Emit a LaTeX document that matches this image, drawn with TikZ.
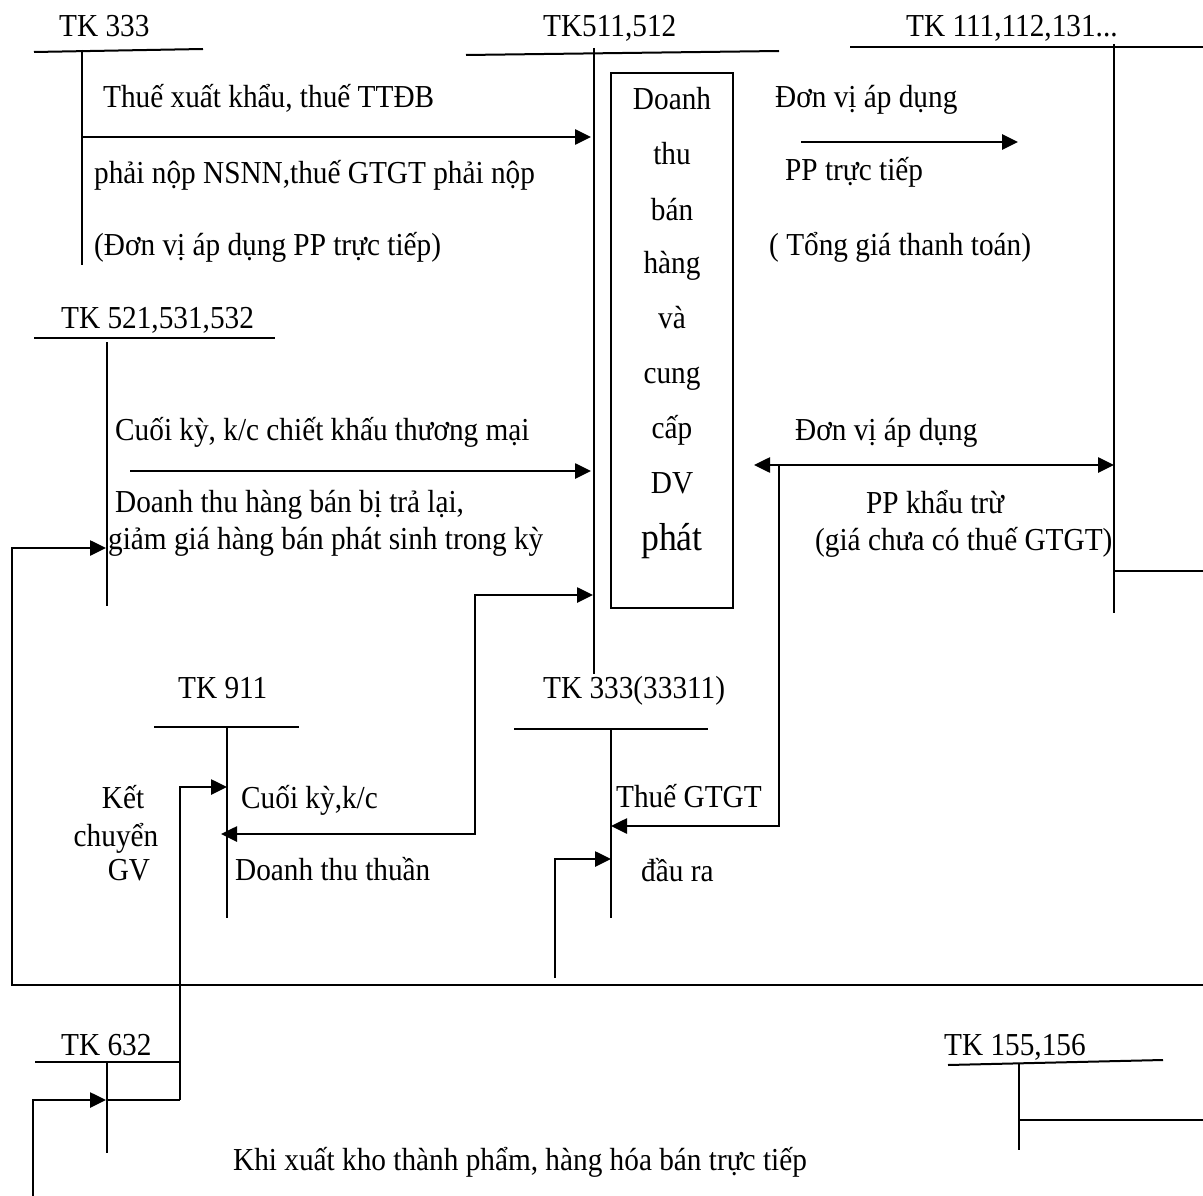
\documentclass[tikz,border=0pt]{standalone}
\usepackage{fontspec}
\setmainfont[FakeStretch=0.915]{Liberation Serif}
\usetikzlibrary{arrows.meta}
\begin{document}
\begin{tikzpicture}[x=1pt,y=-1pt,
  lbl/.style={inner sep=0pt, anchor=west, font=\fontsize{32}{38}\selectfont, text height=24pt, text depth=8pt},
  acc/.style={line width=2pt},
  ln/.style={line width=2.2pt},
  tip/.style={Triangle[length=16pt,width=15pt]},
  arr/.style={line width=2.6pt, -{Triangle[length=16pt,width=15pt]}},
  darr/.style={line width=2.6pt, {Triangle[length=16pt,width=15pt]}-{Triangle[length=16pt,width=15pt]}},
]
\useasboundingbox (0,0) rectangle (1203,1196);

% ---------------- TK 333 ----------------
\node[lbl] (t333) at (59,29) {TK 333};
\coordinate (t333l) at (34,52); \coordinate (t333r) at (203,49);
\coordinate (t333t) at (82,50); \coordinate (t333b) at (82,265);
\draw[acc] (t333l) -- (t333r);
\draw[acc] (t333t) -- (t333b);

% ---------------- TK 511,512 ----------------
\node[lbl] (t511) at (543,29) {TK511,512};
\coordinate (t511l) at (466,55); \coordinate (t511r) at (779,51);
\coordinate (t511t) at (594,48); \coordinate (t511b) at (594,674);
\draw[acc] (t511l) -- (t511r);
\draw[acc] (t511t) -- (t511b);

% ---------------- TK 111,112,131 ----------------
\node[lbl] (t111) at (906,29) {TK 111,112,131...};
\coordinate (t111l) at (850,47); \coordinate (t111r) at (1203,47);
\coordinate (t111t) at (1114,44); \coordinate (t111b) at (1114,613);
\coordinate (t111h) at (1114,571); \coordinate (t111e) at (1203,571);
\draw[acc] (t111l) -- (t111r);
\draw[acc] (t111t) -- (t111b);
\draw[acc] (t111h) -- (t111e);

% ---------------- central box ----------------
\node[draw, line width=1.8pt, minimum width=122pt, minimum height=535pt, inner sep=0pt] (box) at (672,340.5) {};
\foreach \w/\yy [count=\i] in {Doanh/102, thu/157, bán/212, hàng/265, và/320, cung/375, cấp/430, DV/485}
  \node[lbl, anchor=center] (bx\i) at (672,\yy) {\w};
\node[lbl, anchor=center, font=\fontsize{39}{44}\selectfont, text height=29pt, text depth=10pt] (bx9) at (672,541) {phát};

% ---------------- top-left arrow ----------------
\node[lbl] (l1) at (103,100) {Thuế xuất khẩu, thuế TTĐB};
\node[lbl] (l2) at (94,175) {phải nộp NSNN,thuế GTGT phải nộp};
\node[lbl] (l3) at (94,247) {(Đơn vị áp dụng PP trực tiếp)};
\coordinate (a1s) at (82,137); \coordinate (a1e) at (591,137);
\draw[arr] (a1s) -- (a1e);

% ---------------- top-right arrow ----------------
\node[lbl] (r1) at (775,100) {Đơn vị áp dụng};
\node[lbl] (r2) at (785,173) {PP trực tiếp};
\node[lbl] (r3) at (769,247) {( Tổng giá thanh toán)};
\coordinate (a2s) at (801,142); \coordinate (a2e) at (1018,142);
\draw[arr] (a2s) -- (a2e);

% ---------------- TK 521,531,532 ----------------
\node[lbl] (t521) at (61,320) {TK 521,531,532};
\coordinate (t521l) at (34,338); \coordinate (t521r) at (275,338);
\coordinate (t521t) at (107,342); \coordinate (t521b) at (107,606);
\draw[acc] (t521l) -- (t521r);
\draw[acc] (t521t) -- (t521b);
\node[lbl] (m1) at (115,432) {Cuối kỳ, k/c chiết khấu thương mại};
\node[lbl] (m2) at (115,504) {Doanh thu hàng bán bị trả lại,};
\node[lbl] (m3) at (108,541) {giảm giá hàng bán phát sinh trong kỳ};
\coordinate (a3s) at (130,471); \coordinate (a3e) at (591,471);
\draw[arr] (a3s) -- (a3e);

% ---------------- middle-right double arrow ----------------
\node[lbl] (r4) at (795,432) {Đơn vị áp dụng};
\node[lbl] (r5) at (866,505) {PP khẩu trừ};
\node[lbl] (r6) at (815,542) {(giá chưa có thuế GTGT)};
\coordinate (a4s) at (754,465); \coordinate (a4e) at (1114,465);
\draw[darr] (a4s) -- (a4e);
\coordinate (a5s) at (779,465); \coordinate (a5m) at (779,826); \coordinate (a5e) at (611,826);
\draw[arr] (a5s) -- (a5m) -- (a5e);

% ---------------- TK 911 ----------------
\node[lbl] (t911) at (178,690) {TK 911};
\coordinate (t911l) at (154,727); \coordinate (t911r) at (299,727);
\coordinate (t911t) at (227,727); \coordinate (t911b) at (227,918);
\draw[acc] (t911l) -- (t911r);
\draw[acc] (t911t) -- (t911b);
\node[lbl] (c1) at (241,800) {Cuối kỳ,k/c};
\node[lbl] (c2) at (235,872) {Doanh thu thuần};
\node[lbl, anchor=center] (k1) at (123,800) {Kết};
\node[lbl, anchor=center] (k2) at (116,838) {chuyển};
\node[lbl, anchor=center] (k3) at (129,872) {GV};
\coordinate (a6s) at (221,834); \coordinate (a6m1) at (475,834);
\coordinate (a6m2) at (475,595); \coordinate (a6e) at (593,595);
\draw[darr] (a6s) -- (a6m1) -- (a6m2) -- (a6e);

% ---------------- TK 333(33311) ----------------
\node[lbl] (t3331) at (543,690) {TK 333(33311)};
\coordinate (t3331l) at (514,729); \coordinate (t3331r) at (708,729);
\coordinate (t3331t) at (611,729); \coordinate (t3331b) at (611,918);
\draw[acc] (t3331l) -- (t3331r);
\draw[acc] (t3331t) -- (t3331b);
\node[lbl] (g1) at (616,799) {Thuế GTGT};
\node[lbl] (g2) at (641,873) {đầu ra};
\coordinate (a8s) at (555,978); \coordinate (a8m) at (555,859); \coordinate (a8e) at (611,859);
\draw[arr] (a8s) -- (a8m) -- (a8e);

% ---------------- big loop ----------------
\coordinate (a7s) at (1203,985); \coordinate (a7m1) at (12,985);
\coordinate (a7m2) at (12,548); \coordinate (a7e) at (106,548);
\draw[arr] (a7s) -- (a7m1) -- (a7m2) -- (a7e);

% ---------------- TK 632 ----------------
\node[lbl] (t632) at (61,1047) {TK 632};
\coordinate (t632l) at (35,1062); \coordinate (t632r) at (180,1062);
\coordinate (t632t) at (107,1062); \coordinate (t632b) at (107,1153);
\draw[acc] (t632l) -- (t632r);
\draw[acc] (t632t) -- (t632b);
\coordinate (a9s) at (107,1100); \coordinate (a9m1) at (180,1100);
\coordinate (a9m2) at (180,787); \coordinate (a9e) at (227,787);
\draw[ln] (a9s) -- (a9m1);
\draw[arr] (a9m1) -- (a9m2) -- (a9e);
\coordinate (a10s) at (33,1196); \coordinate (a10m) at (33,1100); \coordinate (a10e) at (106,1100);
\draw[arr] (a10s) -- (a10m) -- (a10e);

% ---------------- TK 155,156 ----------------
\node[lbl] (t155) at (944,1047) {TK 155,156};
\coordinate (t155l) at (948,1065); \coordinate (t155r) at (1163,1060);
\coordinate (t155t) at (1019,1063); \coordinate (t155b) at (1019,1150);
\coordinate (t155h) at (1019,1120); \coordinate (t155e) at (1203,1120);
\draw[acc] (t155l) -- (t155r);
\draw[acc] (t155t) -- (t155b);
\draw[acc] (t155h) -- (t155e);

\node[lbl] (bot) at (233,1162) {Khi xuất kho thành phẩm, hàng hóa bán trực tiếp};
\end{tikzpicture}
\end{document}
